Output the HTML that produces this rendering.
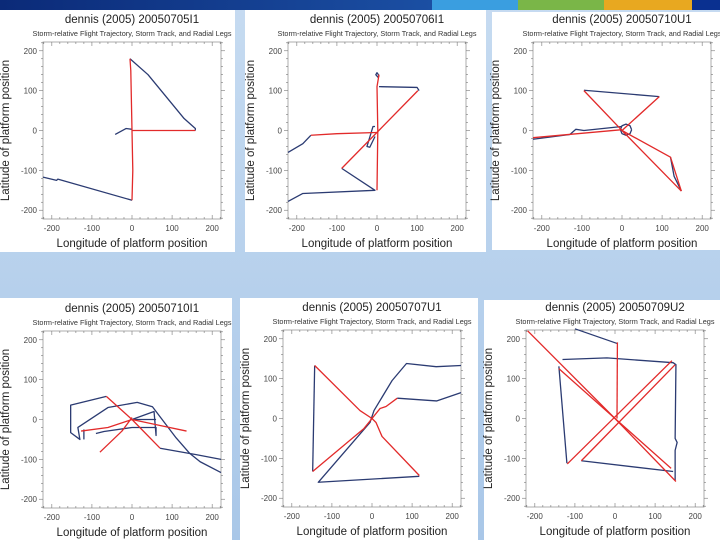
<!DOCTYPE html>
<html><head><meta charset="utf-8"><style>
html,body{margin:0;padding:0;width:720px;height:540px;overflow:hidden;background:#b4cfec}
svg{display:block}
text{font-family:"Liberation Sans",sans-serif}
</style></head><body>
<svg id="s" width="720" height="540" xmlns="http://www.w3.org/2000/svg">
<defs>
<linearGradient id="bg" x1="0" y1="0" x2="0" y2="1"><stop offset="0" stop-color="#c6dbf1"/><stop offset="1" stop-color="#a9c7e8"/></linearGradient>
<linearGradient id="tb" x1="0" y1="0" x2="1" y2="0"><stop offset="0" stop-color="#0b2a78"/><stop offset="1" stop-color="#1b4fa3"/></linearGradient>
</defs>
<rect width="720" height="540" fill="url(#bg)"/>
<rect x="0" y="0" width="432" height="10" fill="url(#tb)"/>
<rect x="432" y="0" width="86" height="10" fill="#3a9ee0"/>
<rect x="518" y="0" width="86" height="10" fill="#7ab648"/>
<rect x="604" y="0" width="88" height="10" fill="#e8a820"/>
<rect x="692" y="0" width="28" height="10" fill="#0a3090"/>
<g id="panels"></g>
</svg>
<script>
// ---- data (lon, lat in km, storm-relative) ----
const ticks = [-200,-100,0,100,200];
const titles = ["dennis (2005) 20050705I1","dennis (2005) 20050706I1","dennis (2005) 20050710U1","dennis (2005) 20050710I1","dennis (2005) 20050707U1","dennis (2005) 20050709U2"];
const p1Red = [[[0,-175],[2,-100],[0,0],[-3,150],[-5,180]],[[158,0],[0,0]]];
const p1Blue = [[[-222,-117],[-188,-125],[-185,-122],[0,-175]],[[-5,180],[40,140],[130,30],[158,5],[158,0]],[[-42,-10],[-15,5],[0,3]]];
const p2Red = [[[-165,-12],[-100,-8],[0,-5]],[[0,-150],[2,0],[0,110],[5,140]],[[-88,-95],[102,100]]];
const p2Blue = [[[-222,-55],[-185,-33],[-165,-12]],[[5,110],[100,108],[105,100]],[[-88,-95],[-5,-150],[-185,-158],[-222,-178]],[[5,138],[0,145],[-3,140],[3,133],[5,138]],[[-5,10],[-10,10],[-25,-40],[-18,-42],[-5,-15]]];
const p3Red = [[[-95,100],[0,0],[148,-152]],[[93,85],[0,0],[121,-67],[148,-152]],[[-222,-18],[0,2]]];
const p3Blue = [[[-95,101],[93,85]],[[121,-67],[130,-115],[148,-152]],[[-222,-22],[-130,-10],[-115,3],[-95,0],[0,10]],[[24,2],[20,12],[10,16],[0,12],[-4,2],[0,-8],[10,-12],[20,-8],[24,2]]];
const p4Red = [[[-64,58],[0,0],[70,-72]],[[-80,-82],[-25,-29],[0,5]],[[-127,-29],[-60,-20],[0,0],[70,-15],[136,-29]]];
const p4Blue = [[[-64,58],[-153,36],[-153,-33],[-130,-50],[-135,-20],[-60,30],[13,43],[51,32],[110,-46],[144,-85],[170,-106],[222,-133]],[[70,-72],[160,-88],[222,-100]],[[-120,-25],[-120,-50]],[[-90,-35],[-70,-30],[0,-20],[60,-20],[60,-40],[55,20],[0,0],[60,0]]];
const p5Red = [[[-143,133],[-30,20],[0,0],[10,-10],[25,-45],[118,-143]],[[-148,-133],[-20,-25],[0,0],[20,25],[35,30],[63,51]]];
const p5Blue = [[[63,51],[161,44],[222,65]],[[-143,133],[-148,-133]],[[118,-145],[-134,-160],[-5,-10],[5,20],[50,95],[86,138],[160,130],[222,133]]];
const p6Red = [[[-218,220],[0,0],[152,-158]],[[-140,125],[0,0],[140,-125]],[[6,191],[5,0]],[[-119,-114],[142,145]],[[-84,-106],[150,135]]];
const p6Blue = [[[-100,225],[6,188]],[[-131,148],[-20,152],[145,140],[152,135],[150,-50],[155,-60],[150,-80],[150,-155]],[[-140,131],[-120,-112]],[[-84,-106],[145,-133]]];
const reds = [p1Red,p2Red,p3Red,p4Red,p5Red,p6Red];
const blues = [p1Blue,p2Blue,p3Blue,p4Blue,p5Blue,p6Blue];
// ---- layout ----
const panelBoxes = [[0,10,235,242,43,42],[245,10,241,242,288,42],[492,12,228,238,533,42],[0,298,232,242,43,331],[240,298,238,242,283,330],[484,300,236,240,526,330]];
const NS="http://www.w3.org/2000/svg";
const root=document.getElementById('panels');
function mk(tag,attrs,parent){const e=document.createElementNS(NS,tag);for(const k in attrs)e.setAttribute(k,attrs[k]);parent.appendChild(e);return e;}
panelBoxes.forEach((b,i)=>{
  const [px,py,pw,ph,bx,by]=b;
  const W=178,H=177;
  const sx=v=>bx+(v+222)*W/444, sy=v=>by+(222-v)*H/444;
  const g=mk('g',{},root);
  
  
  const bg=mk('rect',{x:px,y:py,width:pw,height:ph,fill:'#fff'},g);
  
  
  const cx=bx+W/2;
  const t=mk('text',{x:cx,y:by-19,'font-size':'11.5','text-anchor':'middle',fill:'#222'},g);t.textContent=titles[i];
  
  
  const st=mk('text',{x:cx,y:by-6,'font-size':'7.3','text-anchor':'middle',fill:'#333'},g);st.textContent='Storm-relative Flight Trajectory, Storm Track, and Radial Legs';
  
  
  const box=mk('rect',{x:bx,y:by,width:W,height:H,fill:'none',stroke:'#999','stroke-width':'0.8'},g);
  
  
  for(let v=-220;v<=220;v+=20){
    const major=v%100===0, L=major?4:2;
    mk('line',{x1:sx(v),y1:by+H,x2:sx(v),y2:by+H-L,stroke:'#777','stroke-width':'0.6'},g);
    mk('line',{x1:sx(v),y1:by,x2:sx(v),y2:by+L,stroke:'#777','stroke-width':'0.6'},g);
    mk('line',{x1:bx,y1:sy(v),x2:bx-L,y2:sy(v),stroke:'#777','stroke-width':'0.6'},g);
    mk('line',{x1:bx+W,y1:sy(v),x2:bx+W+L,y2:sy(v),stroke:'#777','stroke-width':'0.6'},g);
  }
  ticks.forEach(v=>{
    const a=mk('text',{x:sx(v),y:by+H+12,'font-size':'8','text-anchor':'middle',fill:'#444'},g);a.textContent=v;
    
    
    const c=mk('text',{x:bx-6,y:sy(v)+3,'font-size':'8','text-anchor':'end',fill:'#444'},g);c.textContent=v;
    
    
  });
  const xl=mk('text',{x:cx,y:by+H+28,'font-size':'11.5','text-anchor':'middle',fill:'#222'},g);xl.textContent='Longitude of platform position';
  
  
  const yx=bx-34, yy=by+H/2;
  const yl=mk('text',{x:yx,y:yy,'font-size':'11.5','text-anchor':'middle',fill:'#222',transform:`rotate(-90 ${yx} ${yy})`},g);yl.textContent='Latitude of platform position';
  
  
  const draw=(lines,col,name)=>lines.forEach(l=>{
    const p=mk('polyline',{points:l.map(q=>sx(q[0])+','+sy(q[1])).join(' '),fill:'none',stroke:col,'stroke-width':'1.3','stroke-linejoin':'round'},g);
    
    
  });
  draw(blues[i],'#2b3b72','flight-trajectory');
  draw(reds[i],'#e22a2a','radial-leg');
});
</script>
</body></html>
